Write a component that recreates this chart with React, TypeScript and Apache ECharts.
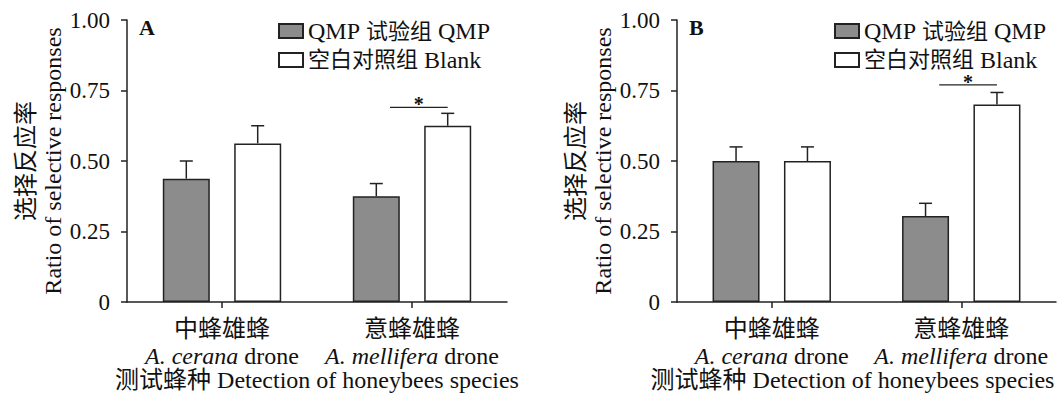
import React, { useEffect, useRef } from 'react';
import * as echarts from 'echarts';

// ---- data ----
const categoriesCN = ['中蜂雄蜂', '意蜂雄蜂'];
const speciesLatin = ['A. cerana', 'A. mellifera'];
const seriesNames = ['QMP 试验组 QMP', '空白对照组 Blank'];
const yAxisName = '选择反应率\nRatio of selective responses';
const xAxisName = '测试蜂种 Detection of honeybees species';
const panelLetters = ['A', 'B'];

const qmpA = [0.4375, 0.375];
const qmpErrA = [0.0625, 0.045];
const blankA = [0.5625, 0.625];
const blankErrA = [0.0625, 0.044];
const sigA = [1, 0.69];

const qmpB = [0.5, 0.305];
const qmpErrB = [0.05, 0.045];
const blankB = [0.5, 0.7];
const blankErrB = [0.05, 0.043];
const sigB = [1, 0.77];

// ---- style ----
const FONT = "'Liberation Serif', 'Times New Roman', 'Noto Sans CJK SC', serif";
const INK = '#222';
const TEXT = '#111';
const GRAY = '#8c8c8c';
const BAR_W = 47;
const GAP_PX = 24.4;
const OFF = (BAR_W + GAP_PX) / 2;

const grids = [
  { left: 127, top: 20, width: 380, height: 282, outerBoundsMode: 'none' },
  { left: 677, top: 20, width: 379, height: 282, outerBoundsMode: 'none' },
];
const legendLefts = [273, 829];
const letterLefts = [139, 689];
const xNamePadding = [
  [0, 0, 0, 0],
  [0, 28, 0, 0],
];

const panels = [
  { qmp: qmpA, qmpErr: qmpErrA, blank: blankA, blankErr: blankErrA, sig: sigA },
  { qmp: qmpB, qmpErr: qmpErrB, blank: blankB, blankErr: blankErrB, sig: sigB },
];

function errSeries(idx: number, vals: number[], errs: number[], offset: number) {
  return {
    type: 'custom',
    xAxisIndex: idx,
    yAxisIndex: idx,
    z: 5,
    silent: true,
    data: vals.map((v, i) => [i, v, v + errs[i]]),
    renderItem: (params: any, api: any) => {
      const b = api.coord([api.value(0), api.value(1)]);
      const t = api.coord([api.value(0), api.value(2)]);
      const x = b[0] + offset;
      const st = { stroke: INK, lineWidth: 1.5 };
      return {
        type: 'group',
        children: [
          { type: 'line', shape: { x1: x, y1: b[1], x2: x, y2: t[1] }, style: st },
          { type: 'line', shape: { x1: x - 6.5, y1: t[1], x2: x + 6.5, y2: t[1] }, style: st },
        ],
      };
    },
  };
}

function sigSeries(idx: number, sig: number[]) {
  return {
    type: 'custom',
    xAxisIndex: idx,
    yAxisIndex: idx,
    z: 5,
    silent: true,
    data: [sig],
    renderItem: (params: any, api: any) => {
      const p = api.coord([api.value(0), api.value(1)]);
      const x1 = p[0] - 22;
      const x2 = p[0] + OFF;
      return {
        type: 'group',
        children: [
          { type: 'line', shape: { x1, y1: p[1], x2, y2: p[1] }, style: { stroke: INK, lineWidth: 1.3 } },
          {
            type: 'text',
            x: (x1 + x2) / 2,
            y: p[1] - 3,
            style: {
              text: '*',
              font: `bold 20px ${FONT}`,
              lineHeight: 12,
              fill: TEXT,
              align: 'center',
              verticalAlign: 'middle',
            },
          },
        ],
      };
    },
  };
}

const cjkRich = (s: string) => s.replace(/([\u4e00-\u9fff]+)/g, '{c|$1}');

export default function App() {
  const ref = useRef<HTMLDivElement>(null);
  useEffect(() => {
    if (!ref.current) return;
    const chart = echarts.init(ref.current, undefined, { renderer: 'svg' });
    const xAxes = grids.map((_, i) => ({
      gridIndex: i,
      type: 'category',
      data: categoriesCN,
      axisLine: { show: true, lineStyle: { color: INK, width: 1.5 } },
      axisTick: { show: true, alignWithLabel: true, length: 6, lineStyle: { color: INK, width: 1.5 } },
      axisLabel: {
        interval: 0,
        margin: 13,
        color: TEXT,
        fontFamily: FONT,
        fontSize: 24,
        lineHeight: 27,
        formatter: (v: string, j: number) => `${v}\n{i|${speciesLatin[j]}} drone`,
        rich: { i: { fontStyle: 'italic', fontFamily: FONT, fontSize: 24, lineHeight: 27, color: TEXT } },
      },
      name: xAxisName,
      nameLocation: 'middle',
      nameGap: 66,
      nameMoveOverlap: false,
      nameTextStyle: { color: TEXT, fontFamily: FONT, fontSize: 24, padding: xNamePadding[i] },
    }));
    const yAxes = grids.map((_, i) => ({
      gridIndex: i,
      type: 'value',
      min: 0,
      max: 1,
      interval: 0.25,
      splitLine: { show: false },
      axisLine: { show: true, lineStyle: { color: INK, width: 1.5 } },
      axisTick: { show: true, length: 6, lineStyle: { color: INK, width: 1.5 } },
      axisLabel: {
        margin: 17,
        color: TEXT,
        fontFamily: FONT,
        fontSize: 23,
        formatter: (v: number) => (v === 0 ? '0' : v.toFixed(2)),
      },
      name: yAxisName,
      nameLocation: 'middle',
      nameRotate: 90,
      nameGap: 61,
      nameMoveOverlap: false,
      nameTextStyle: { color: TEXT, fontFamily: FONT, fontSize: 24, lineHeight: 27 },
    }));
    const series: any[] = [];
    panels.forEach((p, i) => {
      series.push({
        type: 'bar',
        name: seriesNames[0],
        xAxisIndex: i,
        yAxisIndex: i,
        data: p.qmp,
        barWidth: BAR_W,
        barGap: `${(GAP_PX / BAR_W) * 100}%`,
        itemStyle: { color: GRAY, borderColor: INK, borderWidth: 1.5 },
      });
      series.push({
        type: 'bar',
        name: seriesNames[1],
        xAxisIndex: i,
        yAxisIndex: i,
        data: p.blank,
        barWidth: BAR_W,
        barGap: `${(GAP_PX / BAR_W) * 100}%`,
        itemStyle: { color: '#ffffff', borderColor: INK, borderWidth: 1.5 },
      });
      series.push(errSeries(i, p.qmp, p.qmpErr, -OFF));
      series.push(errSeries(i, p.blank, p.blankErr, OFF));
      series.push(sigSeries(i, p.sig));
    });
    chart.setOption({
      animation: false,
      grid: grids,
      xAxis: xAxes,
      yAxis: yAxes,
      legend: legendLefts.map((l) => ({
        left: l,
        top: 14,
        orient: 'vertical',
        icon: 'rect',
        itemWidth: 24,
        itemHeight: 14,
        itemGap: 5,
        selectedMode: false,
        data: seriesNames,
        formatter: (name: string) => cjkRich(name),
        textStyle: {
          color: TEXT,
          fontFamily: FONT,
          fontSize: 24,
          lineHeight: 23,
          rich: { c: { fontFamily: FONT, fontSize: 22, lineHeight: 23, color: TEXT } },
        },
      })),
      graphic: letterLefts.map((l, i) => ({
        type: 'text',
        left: l,
        top: 16,
        style: { text: panelLetters[i], font: `bold 22px ${FONT}`, fill: TEXT },
      })),
      series,
    });
    return () => chart.dispose();
  }, []);
  return (
    <div
      ref={ref}
      style={{ position: 'fixed', left: 0, top: 0, width: 1059, height: 402, background: '#fff' }}
    />
  );
}
